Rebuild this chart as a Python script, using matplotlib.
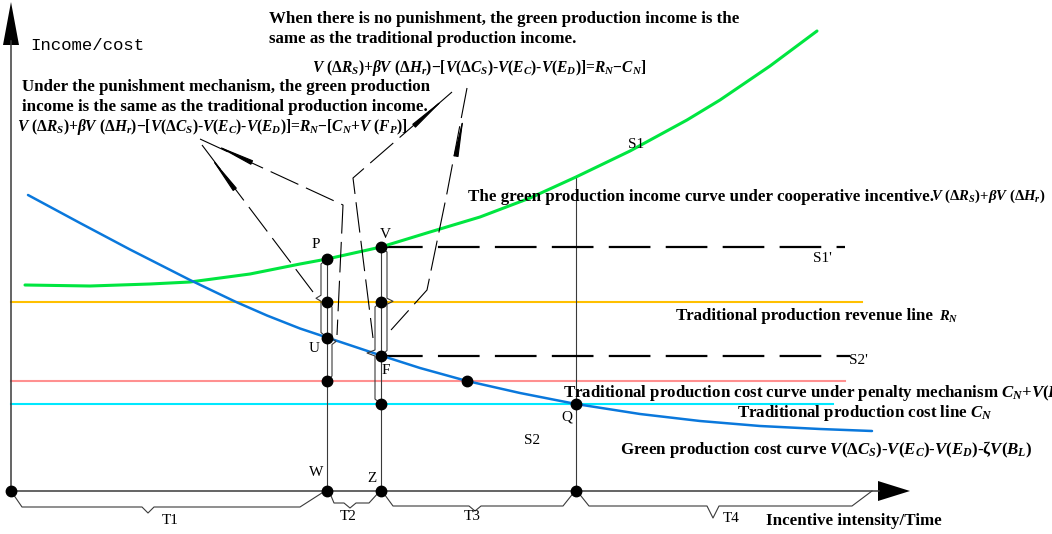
import numpy as np
import matplotlib.pyplot as plt
import matplotlib.transforms as mtransforms

plt.rcParams['mathtext.fontset'] = 'custom'
plt.rcParams['mathtext.rm'] = 'Liberation Serif:bold'
plt.rcParams['mathtext.it'] = 'Liberation Serif:italic:bold'
plt.rcParams['mathtext.bf'] = 'Liberation Serif:bold'
plt.rcParams['lines.scale_dashes'] = False

# diagram values (incentive intensity on x, income/cost on y)
green_x = [14, 79, 139, 179, 239, 289, 316, 370, 419, 469, 519, 565, 619, 676, 709, 759, 806]
green_y = [206, 205, 207, 209, 217, 227, 232, 244, 259, 274, 293, 314, 340, 371, 391, 425, 460]
blue_x = [17, 69, 119, 179, 224, 256, 289, 316, 370, 409, 456, 509, 565, 629, 689, 749, 809, 861]
blue_y = [296, 268, 241.5, 211, 189.5, 175.5, 162.5, 153.5, 135.5, 123, 110, 98, 87, 77, 70, 65, 62, 60]
R_N = 189
C_pen = 110
C_N = 87
R_N_end = 851
C_pen_end = 834
C_N_end = 822
S1p_end = 834
S2p_end = 839
W = 316
Z = 370
Q = 565
X_pen = 456
t_end = 861

fig = plt.figure(figsize=(10.52, 5.34), dpi=100)
ax = fig.add_axes([0, 0, 1, 1])
ax.set_xlim(-11, 1041)
ax.set_ylim(-43, 491)
ax.axis('off')

# pixel transform for annotations (x right, y down)
pix = mtransforms.Affine2D().scale(1 / 1052, -1 / 534).translate(0, 1) + fig.transFigure

def g(x):
    return np.interp(x, green_x, green_y)

def b(x):
    return np.interp(x, blue_x, blue_y)

grey = '#3a3a3a'

# horizontal lines
ax.plot([0, R_N_end], [R_N, R_N], color='#ffc000', lw=1.5)
ax.plot([0, C_pen_end], [C_pen, C_pen], color='#ff9090', lw=1.5)
ax.plot([0, C_N_end], [C_N, C_N], color='#00e8ff', lw=1.5)

# vertical lines
for xv in [W, Z, Q]:
    ax.plot([xv, xv], [0, g(xv)], color=grey, lw=0.8)

# dashed S1', S2'
ax.plot([Z, S1p_end], [g(Z), g(Z)], color='black', lw=1.6, ls=(0, (30, 11)))
ax.plot([Z, S2p_end], [b(Z), b(Z)], color='black', lw=1.6, ls=(0, (30, 11)))

# curves
ax.plot(green_x, green_y, color='#00e640', lw=2.2, solid_capstyle='round')
ax.plot(blue_x, blue_y, color='#0a78dc', lw=1.8, solid_capstyle='round')

# axes
ax.plot([0, 0], [0, 450], color=grey, lw=1.1)
ax.plot([0, 868], [0, 0], color=grey, lw=1.1)
ax.fill([0, -8, 8], [489, 446, 446], color='black', lw=0)
ax.fill([899, 867, 867], [0, 10, -10], color='black', lw=0)

# braces
def brace(x, y_top, y_bot, side, w=6, tip=5):
    ym = (y_top + y_bot) / 2
    xs = [x, x + side * w, x + side * w, x + side * (w + tip), x + side * w, x + side * w, x]
    ys = [y_top, y_top - 5, ym + 3, ym, ym - 3, y_bot + 5, y_bot]
    ax.plot(xs, ys, color=grey, lw=0.8)

brace(W, g(W), b(W), -1, 6, 5)
brace(W, R_N, C_pen, 1, 5, 4)
brace(Z, g(Z), b(Z), 1, 6, 6)
brace(Z, R_N, C_N, -1, 6, 8)

# time brackets under the axis
def bracket(x0, x1, xt, s0, s1, d, td):
    xs = [x0, x0 + s0, xt - 6, xt, xt + 6, x1 - s1, x1]
    ys = [0, -d, -d, -d - td, -d, -d, 0]
    ax.plot(xs, ys, color=grey, lw=0.8)

bracket(0, W - 2, 137, 11, 25, 16, 6)
bracket(W + 2, Z - 1, 339, 5, 11, 12, 5)
bracket(Z + 1, Q - 1, 464, 11, 12, 15, 5)
bracket(Q + 1, t_end, 702, 12, 20, 15, 12)

# dots
dots_x = [0, W, W, W, W, W, Z, Z, Z, Z, Z, X_pen, Q, Q]
dots_y = [0, 0, g(W), R_N, b(W), C_pen, 0, g(Z), R_N, b(Z), C_N, C_pen, C_N, 0]
ax.plot(dots_x, dots_y, 'o', color='black', ms=7.5, zorder=5)

# callout lines (pixel positions)
callouts = [
    [(200, 139), (343, 205), (337, 335)],
    [(202, 145), (313, 292)],
    [(452, 92), (353, 178), (373, 338)],
    [(467, 88), (447, 193), (427, 290), (391, 330)],
]
for pts in callouts:
    xs, ys = zip(*pts)
    ax.plot(xs, ys, color='black', lw=0.8, ls=(0, (22, 6)), transform=pix)

heads = [((236, 155), (213, 144)), ((230, 183), (209, 155)),
         ((426, 115), (446, 97)), ((458, 146), (464, 114))]
for base, tip in heads:
    ax.annotate('', xy=tip, xytext=base, xycoords=pix, textcoords=pix,
                arrowprops=dict(arrowstyle='-|>,head_length=2.4,head_width=0.14',
                                color='black', lw=0.8, mutation_scale=10,
                                shrinkA=0, shrinkB=0))

# texts
bold = dict(family='Liberation Serif', fontweight='bold', fontsize=12.2,
            va='center', ha='left', transform=pix)
form = dict(bold, fontsize=11.2)
small = dict(family='Liberation Serif', fontsize=11, va='center',
             ha='center', transform=pix)

ax.text(30, 45, 'Income/cost', family='Liberation Mono', fontsize=12.5,
        va='center', ha='left', transform=pix)

ax.text(269, 19, 'When there is no punishment, the green production income is the', **bold)
ax.text(269, 39, 'same as the traditional production income.', **bold)
ax.text(312, 68, r'$V\ (\Delta R_S)$+$\beta V\ (\Delta H_r)$$-$[$V$($\Delta C_S$)-$V$($E_C$)-$V$($E_D$)]=$R_N$$-$$C_N$]', **form)
ax.text(22, 87, 'Under the punishment mechanism, the green production', **bold)
ax.text(22, 107, 'income is the same as the traditional production income.', **bold)
ax.text(17, 127, r'$V\ (\Delta R_S)$+$\beta V\ (\Delta H_r)$$-$[$V$($\Delta C_S$)-$V$($E_C$)-$V$($E_D$)]=$R_N$$-$[$C_N$+$V$ ($F_P$)]', **form)
ax.text(468, 197, 'The green production income curve under cooperative incentive.', **bold)
ax.text(931, 196, r'$V\ (\Delta R_S)$+$\beta V\ (\Delta H_r)$', **dict(form, fontsize=10.6))
ax.text(676, 316, 'Traditional production revenue line', **bold)
ax.text(939, 317, r'$R_N$', **dict(form, fontsize=10.5))
ax.text(563, 393, r'Traditional production cost curve under penalty mechanism $C_N$+$V$($F_P$)', **bold)
ax.text(737, 413, r'Traditional production cost line $C_N$', **bold)
ax.text(620, 449, r'Green production cost curve $V$($\Delta C_S$)-$V$($E_C$)-$V$($E_D$)-ζ$V$($B_L$)', **bold)
ax.text(766, 521, 'Incentive intensity/Time', **bold)

for s, x, y in [('P', 316, 245), ('V', 385, 235), ('U', 314, 348), ('F', 386, 370),
                ('W', 316, 473), ('Z', 372, 478), ('Q', 567, 417), ('S1', 636, 145),
                ("S1'", 822, 258), ("S2'", 858, 361), ('S2', 532, 440),
                ('T1', 170, 521), ('T2', 348, 517), ('T3', 472, 517), ('T4', 731, 519)]:
    ax.text(x, y, s, **small)

plt.savefig('out.png', dpi=100)
